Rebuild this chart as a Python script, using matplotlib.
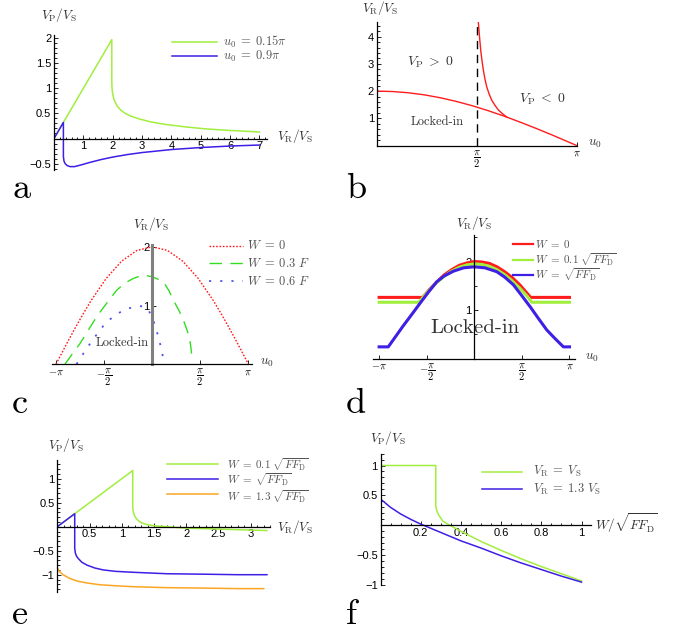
import numpy as np
import matplotlib
matplotlib.use('Agg')
import matplotlib.pyplot as plt
from matplotlib.lines import Line2D
from matplotlib.ticker import MultipleLocator

plt.rcParams['mathtext.fontset'] = 'cm'
plt.rcParams['font.family'] = ['Liberation Sans', 'DejaVu Sans']
plt.rcParams['axes.unicode_minus'] = True

PI = np.pi

# ---------------- data ----------------
# panel a
a_green_x = [0, 1.97, 1.97, 1.98, 2.0, 2.04, 2.08, 2.15, 2.25, 2.4, 2.6, 2.9, 3.3, 3.8, 4.5, 5.2, 6.0, 7.0]
a_green_y = [0, 1.97, 1.10, 0.98, 0.88, 0.79, 0.73, 0.65, 0.58, 0.51, 0.45, 0.39, 0.33, 0.28, 0.23, 0.19, 0.16, 0.13]
a_blue_x = [0, 0.32, 0.32, 0.34, 0.38, 0.45, 0.55, 0.7, 0.9, 1.2, 1.6, 2.0, 2.5, 3.0, 4.0, 5.0, 6.0, 7.0]
a_blue_y = [0, 0.32, -0.36, -0.45, -0.50, -0.54, -0.56, -0.56, -0.53, -0.48, -0.42, -0.37, -0.32, -0.28, -0.22, -0.18, -0.15, -0.13]
a_legend = [r'$u_0 \;=\; 0.15\pi$', r'$u_0 \;=\; 0.9\pi$']

# panel b
b_lower_u = [0, 0.25, 0.5, 0.75, 1.0, 1.25, 1.5, 1.75, 2.0, 2.25, 2.5, 2.75, 3.0, PI]
b_lower_v = [2.0, 1.984, 1.938, 1.862, 1.755, 1.621, 1.463, 1.281, 1.081, 0.862, 0.632, 0.392, 0.141, 0.0]
b_upper_u = [1.596, 1.615, 1.634, 1.655, 1.675, 1.70, 1.728, 1.765, 1.806, 1.86, 1.91, 1.97, 2.04]
b_upper_v = [4.55, 4.0, 3.5, 3.1, 2.78, 2.45, 2.16, 1.90, 1.67, 1.47, 1.31, 1.18, 1.05]

# panel c
c_red_u = [-PI, -2.75, -2.5, -2.25, -2.0, -1.5, -1.0, -0.5, 0, 0.5, 1.0, 1.5, 2.0, 2.25, 2.5, 2.75, PI]
c_red_v = [0, 0.392, 0.632, 0.862, 1.081, 1.463, 1.755, 1.938, 2.0, 1.938, 1.755, 1.463, 1.081, 0.862, 0.632, 0.392, 0]
c_green_u = [-2.85, -2.6, -2.36, -2.1, -1.81, -1.5, -1.16, -0.9, -0.62, -0.3, 0, 0.36, 0.55, 0.69, 0.87, 1.02, 1.15, 1.23, 1.28, 1.29]
c_green_v = [0, 0.18, 0.35, 0.57, 0.81, 1.03, 1.26, 1.38, 1.46, 1.52, 1.49, 1.41, 1.25, 1.09, 0.92, 0.75, 0.56, 0.41, 0.22, 0.05]
c_blue_u = [-2.47, -2.25, -2.03, -1.78, -1.54, -1.25, -0.94, -0.65, -0.40, -0.25, -0.12, 0.0, 0.1, 0.2, 0.28, 0.35, 0.38]
c_blue_v = [0, 0.18, 0.35, 0.53, 0.69, 0.82, 0.92, 0.97, 0.99, 0.98, 0.92, 0.80, 0.65, 0.47, 0.30, 0.13, 0.03]
c_legend = [r'$W \;=\; 0$', r'$W \;=\; 0.3\ F$', r'$W \;=\; 0.6\ F$']

# panel d
d_red_u = [-PI, -1.70, -1.5, -1.25, -1.0, -0.75, -0.5, -0.25, 0, 0.25, 0.5, 0.75, 1.0, 1.25, 1.5, 1.75, 1.86, PI]
d_red_v = [1.26, 1.26, 1.41, 1.57, 1.72, 1.83, 1.92, 1.97, 2.0, 1.99, 1.96, 1.89, 1.79, 1.67, 1.52, 1.34, 1.26, 1.26]
d_green_u = [-PI, -1.83, -1.5, -1.25, -1.0, -0.75, -0.5, -0.25, 0, 0.25, 0.5, 0.75, 1.0, 1.25, 1.5, 1.75, 1.90, PI]
d_green_v = [1.16, 1.16, 1.40, 1.56, 1.69, 1.80, 1.88, 1.93, 1.95, 1.94, 1.90, 1.83, 1.73, 1.60, 1.45, 1.28, 1.16, 1.16]
d_blue_u = [-PI, -2.84, -2.6, -2.35, -2.05, -1.79, -1.5, -1.24, -1.0, -0.69, -0.35, 0, 0.35, 0.74, 1.0, 1.29, 1.55, 1.84, 2.1, 2.39, 2.65, 2.94, PI]
d_blue_v = [0.24, 0.24, 0.45, 0.67, 0.92, 1.14, 1.38, 1.58, 1.70, 1.80, 1.87, 1.89, 1.87, 1.79, 1.68, 1.52, 1.31, 1.07, 0.84, 0.59, 0.42, 0.24, 0.24]
d_legend = [r'$W \;=\; 0$', r'$W \;=\; 0.1\ \sqrt{F F_\mathrm{D}}$', r'$W \;=\; \sqrt{F F_\mathrm{D}}$']

# panel e
e_green_x = [0, 1.17, 1.17, 1.18, 1.20, 1.23, 1.28, 1.33, 1.40, 1.54, 1.7, 2.0, 2.5, 3.0, 3.25]
e_green_y = [0, 1.17, 0.40, 0.30, 0.22, 0.16, 0.10, 0.07, 0.04, 0.015, 0.0, -0.03, -0.05, -0.07, -0.08]
e_blue_x = [0, 0.27, 0.27, 0.28, 0.30, 0.33, 0.38, 0.46, 0.58, 0.71, 0.9, 1.18, 1.7, 2.3, 2.8, 3.25]
e_blue_y = [0, 0.27, -0.45, -0.55, -0.62, -0.67, -0.74, -0.80, -0.86, -0.90, -0.93, -0.95, -0.98, -0.99, -1.0, -1.0]
e_orange_x = [0, 0.03, 0.09, 0.18, 0.30, 0.45, 0.66, 0.9, 1.18, 1.7, 2.3, 2.8, 3.2]
e_orange_y = [-0.85, -0.93, -1.0, -1.07, -1.13, -1.17, -1.21, -1.23, -1.25, -1.27, -1.28, -1.29, -1.29]
e_legend = [r'$W \;=\; 0.1\ \sqrt{F F_\mathrm{D}}$', r'$W \;=\; \sqrt{F F_\mathrm{D}}$', r'$W \;=\; 1.3\ \sqrt{F F_\mathrm{D}}$']

# panel f
f_green_x = [0, 0.275, 0.275, 0.28, 0.29, 0.31, 0.345, 0.40, 0.5, 0.6, 0.7, 0.8, 0.9, 1.0]
f_green_y = [1, 1, 0.32, 0.24, 0.17, 0.07, 0.0, -0.10, -0.27, -0.42, -0.56, -0.69, -0.81, -0.93]
f_blue_x = [0, 0.05, 0.1, 0.15, 0.2, 0.3, 0.4, 0.5, 0.6, 0.7, 0.8, 0.9, 1.0]
f_blue_y = [0.44, 0.30, 0.19, 0.10, 0.02, -0.12, -0.26, -0.38, -0.51, -0.63, -0.74, -0.85, -0.95]
f_legend = [r'$V_\mathrm{R} \;=\; V_\mathrm{S}$', r'$V_\mathrm{R} \;=\; 1.3\ V_\mathrm{S}$']

pi_ticks = [-PI, -PI / 2, PI / 2, PI]
pi_labels = [r'$-\pi$', r'$-\dfrac{\pi}{2}$', r'$\dfrac{\pi}{2}$', r'$\pi$']

# ---------------- styling ----------------
GREEN = '#a2ee3e'
BLUE = '#3d1fe6'
RED = '#ff1c1c'
ORANGE = '#fba623'
TXT = '#333333'
LEG = '#555555'

W, H = 683, 633
fig = plt.figure(figsize=(W / 100, H / 100), dpi=100)


def make_ax(ox, oy, sx, sy, xlim, ylim):
    left = ox + xlim[0] * sx
    right = ox + xlim[1] * sx
    top = oy - ylim[1] * sy
    bottom = oy - ylim[0] * sy
    ax = fig.add_axes([left / W, 1 - bottom / H, (right - left) / W, (bottom - top) / H])
    ax.set_xlim(xlim)
    ax.set_ylim(ylim)
    ax.patch.set_visible(False)
    for s in ['top', 'right']:
        ax.spines[s].set_visible(False)
    for s in ['left', 'bottom']:
        ax.spines[s].set_position(('data', 0))
        ax.spines[s].set_linewidth(0.9)
    ax.tick_params(which='both', direction='in', labelsize=8, pad=2, width=0.6, colors='black')
    ax.tick_params(which='major', length=3.2)
    ax.tick_params(which='minor', length=1.8)
    return ax


def set_pi_ticks(ax, ticks, labels):
    ax.set_xticks(ticks, labels)
    for lab in ax.get_xticklabels():
        lab.set_fontsize(7.5)


def T(x, y, s, size=9.5, ha='center', va='center', color=TXT, **kw):
    fig.text(x / W, 1 - y / H, s, fontsize=size, ha=ha, va=va, color=color, **kw)


def L(x0, x1, y, color, **kw):
    fig.add_artist(Line2D([x0 / W, x1 / W], [1 - y / H, 1 - y / H],
                          transform=fig.transFigure, color=color, **kw))


def letter(x, y, s):
    fig.text(x / W, 1 - y / H, s, fontsize=26, family='cmr10', ha='left', va='baseline')


# ---------------- panel a ----------------
ax = make_ax(54, 138.5, 29.35, 50.2, (0, 7.25), (-0.63, 2.06))
ax.plot(a_green_x, a_green_y, color=GREEN, lw=1.1)
ax.plot(a_blue_x, a_blue_y, color=BLUE, lw=1.1)
ax.set_xticks([1, 2, 3, 4, 5, 6, 7], ['1', '2', '3', '4', '5', '6', '7'])
ax.set_yticks([-0.5, 0.5, 1, 1.5, 2], ['\u22120.5', '0.5', '1', '1.5', '2'])
ax.xaxis.set_minor_locator(MultipleLocator(0.2))
ax.yaxis.set_minor_locator(MultipleLocator(0.1))
T(59, 15, r'$V_\mathrm{P}/V_\mathrm{S}$')
T(295, 136, r'$V_\mathrm{R}/V_\mathrm{S}$')
L(172, 217, 41.7, GREEN, lw=1.1)
L(172, 217, 56, BLUE, lw=1.1)
T(223, 41.7, a_legend[0], size=9, ha='left', color=LEG)
T(223, 56, a_legend[1], size=9, ha='left', color=LEG)
letter(12, 198, 'a')

# ---------------- panel b ----------------
ax = make_ax(376.7, 145.5, 63.66, 27.2, (0, PI), (0, 4.55))
ax.plot(b_lower_u, b_lower_v, color=RED, lw=1.0)
ax.plot(b_upper_u, b_upper_v, color=RED, lw=1.0)
ax.plot([PI / 2, PI / 2], [0, 4.55], color='black', lw=1.0, dashes=(6, 4))
set_pi_ticks(ax, [PI / 2, PI], [r'$\dfrac{\pi}{2}$', r'$\pi$'])
ax.set_yticks([1, 2, 3, 4], ['1', '2', '3', '4'])
ax.yaxis.set_minor_locator(MultipleLocator(0.2))
T(380, 8, r'$V_\mathrm{R}/V_\mathrm{S}$')
T(595, 144, r'$u_0$')
T(430, 62, r'$V_\mathrm{P} \;>\; 0$', size=10)
T(541.7, 99, r'$V_\mathrm{P} \;<\; 0$', size=10)
T(437, 121.7, 'Locked-in', size=9, family='cmr10')
letter(346, 198, 'b')

# ---------------- panel c ----------------
ax = make_ax(152.2, 364.2, 30.62, 58.7, (-3.28, 3.25), (0, 2.03))
ax.spines['left'].set_color('#808080')
ax.spines['left'].set_linewidth(2.2)
ax.plot(c_red_u, c_red_v, color=RED, lw=1.0, dashes=(1.2, 1.2))
ax.plot(c_green_u, c_green_v, color='#33dd22', lw=1.0, dashes=(9, 6))
ax.plot(c_blue_u, c_blue_v, color='#5555ee', lw=1.3, dashes=(1.2, 5))
set_pi_ticks(ax, pi_ticks, pi_labels)
ax.set_yticks([1, 2], ['1', '2'])
T(151.3, 224, r'$V_\mathrm{R}/V_\mathrm{S}$')
T(266.7, 363.3, r'$u_0$')
T(122.7, 342.7, 'Locked-in', size=9, family='cmr10')
L(209, 243, 245.7, RED, lw=1.0, dashes=(1.2, 1.2))
L(209, 243, 263.3, '#33dd22', lw=1.0, dashes=(9, 6))
L(209, 243, 281.3, '#5555ee', lw=1.3, dashes=(1.2, 5))
for yy, s in zip([245.7, 263.3, 281.3], c_legend):
    T(246.7, yy, s, size=9, ha='left', color=LEG)
letter(12, 413, 'c')

# ---------------- panel d ----------------
ax = make_ax(474.3, 358.5, 30.3, 48.5, (-3.33, 3.32), (0, 2.55))
ax.plot(d_red_u, d_red_v, color=RED, lw=2.2)
ax.plot(d_green_u, d_green_v, color=GREEN, lw=2.2)
ax.plot(d_blue_u, d_blue_v, color=BLUE, lw=2.2)
set_pi_ticks(ax, pi_ticks, pi_labels)
ax.set_yticks([1, 2], ['1', '2'])
ax.yaxis.set_minor_locator(MultipleLocator(0.5))
T(474.5, 223.3, r'$V_\mathrm{R}/V_\mathrm{S}$')
T(591.7, 358.3, r'$u_0$')
T(475, 328.3, 'Locked-in', size=15, family='cmr10')
for yy, c, s in zip([244, 260, 275], [RED, GREEN, BLUE], d_legend):
    L(513.3, 532.7, yy, c, lw=1.6)
    T(535, yy, s, size=8, ha='left', color=LEG)
letter(346, 413, 'd')

# ---------------- panel e ----------------
ax = make_ax(57.3, 526.7, 64.5, 48, (0, 3.3), (-1.37, 1.38))
ax.plot(e_green_x, e_green_y, color=GREEN, lw=1.1)
ax.plot(e_blue_x, e_blue_y, color=BLUE, lw=1.1)
ax.plot(e_orange_x, e_orange_y, color=ORANGE, lw=1.1)
ax.set_xticks([0.5, 1, 1.5, 2, 2.5, 3], ['0.5', '1', '1.5', '2', '2.5', '3'])
ax.set_yticks([-1, -0.5, 0.5, 1], ['\u22121', '\u22120.5', '0.5', '1'])
ax.xaxis.set_minor_locator(MultipleLocator(0.1))
ax.yaxis.set_minor_locator(MultipleLocator(0.1))
T(65.5, 445, r'$V_\mathrm{P}/V_\mathrm{S}$')
T(295, 527.3, r'$V_\mathrm{R}/V_\mathrm{S}$')
for yy, ty, c, s in zip([464, 479.3, 494], [464.5, 479.5, 496.5], [GREEN, BLUE, ORANGE], e_legend):
    L(167, 218, yy, c, lw=1.1)
    T(226.7, ty, s, size=8, ha='left', color=LEG)
letter(12, 624, 'e')

# ---------------- panel f ----------------
ax = make_ax(380.5, 525.3, 201, 59.8, (0, 1.045), (-1.0, 1.2))
ax.plot(f_green_x, f_green_y, color=GREEN, lw=1.1)
ax.plot(f_blue_x, f_blue_y, color=BLUE, lw=1.1)
ax.set_xticks([0.2, 0.4, 0.6, 0.8, 1.0], ['0.2', '0.4', '0.6', '0.8', '1'])
ax.set_yticks([-1, -0.5, 0.5, 1], ['\u22121', '\u22120.5', '0.5', '1'])
ax.xaxis.set_minor_locator(MultipleLocator(0.05))
ax.yaxis.set_minor_locator(MultipleLocator(0.1))
T(388, 438.3, r'$V_\mathrm{P}/V_\mathrm{S}$')
T(626.7, 523.3, r'$W/\sqrt{F F_\mathrm{D}}$')
for yy, c, s in zip([471.7, 489], [GREEN, BLUE], f_legend):
    L(481.7, 521.7, yy, c, lw=1.1)
    T(532.7, yy, s, size=9, ha='left', color=LEG)
letter(346, 624, 'f')

fig.savefig('out.png', dpi=100)
